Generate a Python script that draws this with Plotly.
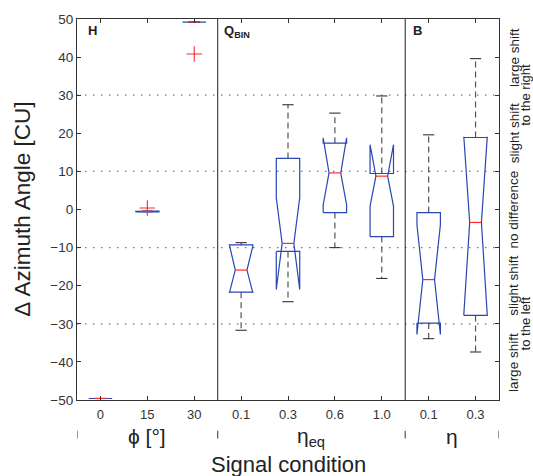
import plotly.graph_objects as go

# 信号条件（9 个箱体，按组排列）
positions = [1, 2, 3, 4, 5, 6, 7, 8, 9]
tick_labels = ["0", "15", "30", "0.1", "0.3", "0.6", "1.0", "0.1", "0.3"]

# 箱线统计量
q1 = [-49.6, -0.6, 49.2, -21.7, -11.0, -0.8, -7.1, -29.8, -27.8]
median = [-49.6, -0.5, 49.2, -15.9, -8.9, 9.6, 8.75, -18.4, -3.4]
q3 = [-49.6, -0.4, 49.2, -9.3, 13.4, 17.4, 9.45, -0.8, 18.9]
notch_lo = [-49.6, -0.5, 49.2, -21.9, -21.0, 1.2, 0.9, -32.8, -27.5]
notch_hi = [-49.6, -0.5, 49.2, -9.6, 3.1, 18.8, 17.0, -4.0, 19.1]
whisker_lo = [-49.6, -0.6, 49.2, -31.7, -24.2, -10.0, -18.1, -33.9, -37.4]
whisker_hi = [-49.6, -0.4, 49.2, -8.7, 27.5, 25.3, 29.8, 19.6, 39.6]

outlier_pos = [2, 3]
outlier_val = [0.4, 40.8]

# 分组
group_names = ["ϕ [°]", "η<sub>eq</sub>", "η"]
group_centers = [2, 5.5, 8.5]
group_edges = [0.5, 3.5, 7.5, 9.5]
panel_labels = ["<b>H</b>", "<b>Q</b><sub><b>BIN</b></sub>", "<b>B</b>"]

ref_lines = [30, 10, -10, -30]
shift_main = ["large shift", "slight shift", "no difference", "slight shift", "large shift"]
shift_main_y = [40, 20, 0, -20, -40]
shift_side = ["to the right", "to the left"]
shift_side_y = [30, -30]

BOX_W = 0.25
NOTCH_W = 0.125
CAP_W = 0.12
BLUE = "#2846b4"
RED = "#ff2a2a"
FONT = "Arial, Liberation Sans, sans-serif"

fig = go.Figure()

# 须线（虚线）和端帽
wx, wy, cx, cy = [], [], [], []
for p, a, b, lo, hi in zip(positions, q1, q3, whisker_lo, whisker_hi):
    wx += [p, p, None, p, p, None]
    wy += [b, hi, None, a, lo, None]
    cx += [p - CAP_W, p + CAP_W, None, p - CAP_W, p + CAP_W, None]
    cy += [hi, hi, None, lo, lo, None]
fig.add_trace(go.Scatter(x=wx, y=wy, mode="lines", cliponaxis=False,
                         line=dict(color="#555555", width=1.2, dash="6px,4px"),
                         hoverinfo="skip"))
fig.add_trace(go.Scatter(x=cx, y=cy, mode="lines", cliponaxis=False,
                         line=dict(color="#333333", width=1.1), hoverinfo="skip"))

# 带凹口的箱体（MATLAB 风格，凹口可超出箱体）
bx, by, mx, my = [], [], [], []
for p, a, lo, m, hi, b in zip(positions, q1, notch_lo, median, notch_hi, q3):
    L, R = p - BOX_W, p + BOX_W
    nl, nr = p - NOTCH_W, p + NOTCH_W
    bx += [L, L, nl, L, L, R, R, nr, R, R, L, None]
    by += [a, lo, m, hi, b, b, hi, m, lo, a, a, None]
    mx += [nl, nr, None]
    my += [m, m, None]
fig.add_trace(go.Scatter(x=bx, y=by, mode="lines", cliponaxis=False,
                         line=dict(color=BLUE, width=1.2), hoverinfo="skip"))
fig.add_trace(go.Scatter(x=mx, y=my, mode="lines", cliponaxis=False,
                         line=dict(color=RED, width=1.2), hoverinfo="skip"))

# 离群点
fig.add_trace(go.Scatter(x=outlier_pos, y=outlier_val, mode="markers", cliponaxis=False,
                         marker=dict(symbol="cross-thin", size=11,
                                     line=dict(color=RED, width=1.1)),
                         hoverinfo="skip"))

# 参考虚线
for v in ref_lines:
    fig.add_shape(type="line", xref="paper", yref="y", x0=0, x1=1, y0=v, y1=v,
                  layer="below", line=dict(color="#777777", width=1.3, dash="1.5px,6.5px"))

# 组分隔线
for e in group_edges[1:-1]:
    fig.add_shape(type="line", xref="x", yref="paper", x0=e, x1=e, y0=0, y1=1,
                  line=dict(color="#333333", width=1.1))

# 组边界小刻度（轴下方）
for e in group_edges:
    fig.add_shape(type="line", xref="x", yref="paper", x0=e, x1=e,
                  y0=-0.081, y1=-0.101, line=dict(color="#555555", width=1.2))

annotations = []
panel_x = [0.69, 3.59, 7.62]
for t, x in zip(panel_labels, panel_x):
    annotations.append(dict(x=x, y=0.995, xref="x", yref="paper", text=t, showarrow=False,
                            xanchor="left", yanchor="top",
                            font=dict(family=FONT, size=13, color="#222222")))
for t, x in zip(group_names, group_centers):
    annotations.append(dict(x=x, y=-0.097, xref="x", yref="paper", text=t, showarrow=False,
                            xanchor="center", yanchor="middle",
                            font=dict(family=FONT, size=21, color="#222222")))
for t, y in zip(shift_main, shift_main_y):
    annotations.append(dict(x=1.0355, y=y, xref="paper", yref="y", text=t, showarrow=False,
                            textangle=-90, xanchor="center", yanchor="middle",
                            font=dict(family=FONT, size=13.5, color="#222222")))
for t, y in zip(shift_side, shift_side_y):
    annotations.append(dict(x=1.063, y=y, xref="paper", yref="y", text=t, showarrow=False,
                            textangle=-90, xanchor="center", yanchor="middle",
                            font=dict(family=FONT, size=13, color="#222222")))
annotations.append(dict(x=0.5, y=-0.170, xref="paper", yref="paper", text="Signal condition",
                        showarrow=False, xanchor="center", yanchor="middle",
                        font=dict(family=FONT, size=22, color="#222222")))
annotations.append(dict(x=-0.130, y=0.5, xref="paper", yref="paper", text="Δ Azimuth Angle [CU]",
                        showarrow=False, textangle=-90, xanchor="center", yanchor="middle",
                        font=dict(family=FONT, size=22.5, color="#222222")))

fig.update_layout(
    width=533, height=476,
    margin=dict(l=77, r=34, t=17, b=76),
    plot_bgcolor="white", paper_bgcolor="white",
    showlegend=False,
    annotations=annotations,
    font=dict(family=FONT, size=13, color="#333333"),
)
fig.update_xaxes(range=[0.5, 9.5], tickvals=positions, ticktext=tick_labels,
                 showgrid=False, zeroline=False, showline=True, mirror="ticks",
                 linecolor="#333333", linewidth=1.2, ticks="inside", ticklen=4,
                 tickcolor="#333333", ticklabelstandoff=2,
                 tickfont=dict(size=13, color="#333333"))
fig.update_yaxes(range=[-50, 50], dtick=10, tick0=0,
                 showgrid=False, zeroline=False, showline=True, mirror="ticks",
                 linecolor="#333333", linewidth=1.2, ticks="inside", ticklen=4,
                 tickcolor="#333333", tickfont=dict(size=13.5, color="#333333"))

# 去掉页面默认边距，使图与窗口对齐
fig.write_html("out.html", config={"displayModeBar": False},
               post_script="document.body.style.margin='0';")
